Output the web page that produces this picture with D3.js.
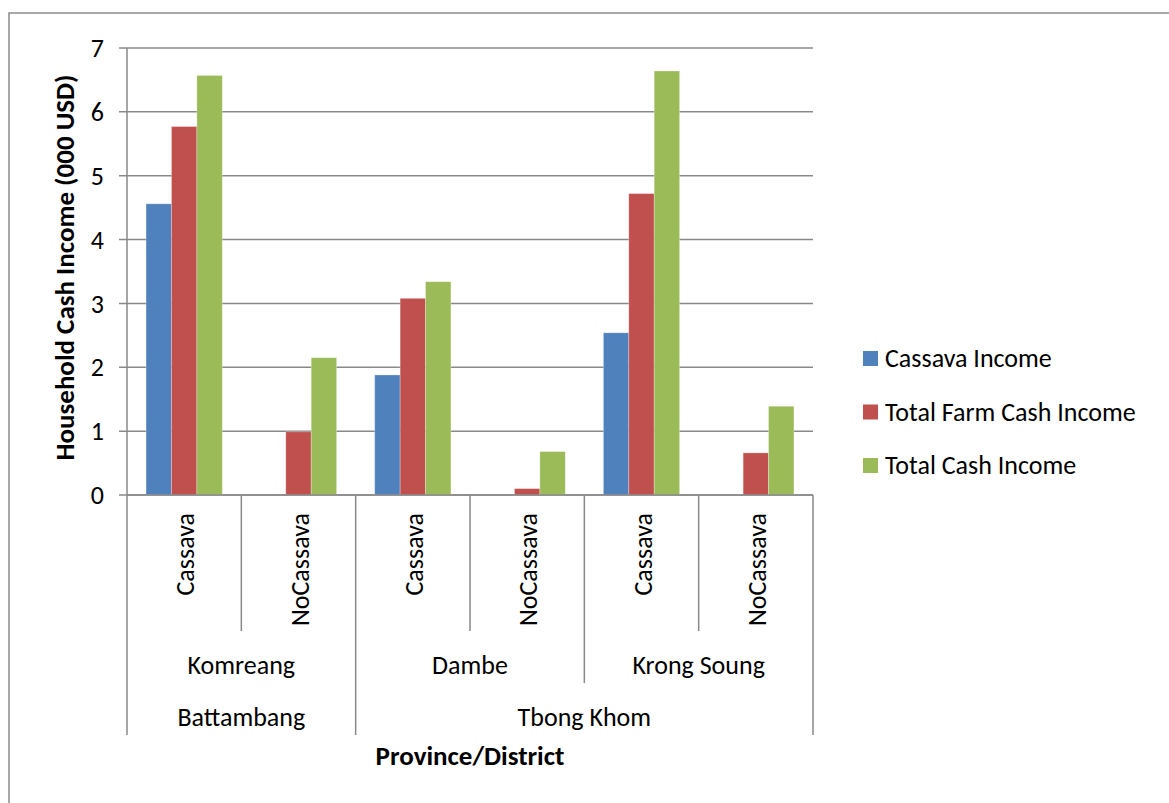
<!DOCTYPE html>
<html>
<head>
<meta charset="utf-8">
<script src="https://cdn.jsdelivr.net/npm/d3@7"></script>
<style>
  html, body { margin: 0; padding: 0; background: #fff; }
  svg { display: block; font-family: Calibri, Carlito, Lato, sans-serif; }
</style>
</head>
<body>
<svg id="chart" width="1169" height="803"></svg>
<script>
// ---- data ----
const subCategories = ["Cassava", "NoCassava", "Cassava", "NoCassava", "Cassava", "NoCassava"];
const districts = ["Komreang", "Komreang", "Dambe", "Dambe", "Krong Soung", "Krong Soung"];
const provinces = ["Battambang", "Battambang", "Tbong Khom", "Tbong Khom", "Tbong Khom", "Tbong Khom"];
const seriesNames = ["Cassava Income", "Total Farm Cash Income", "Total Cash Income"];
const cassavaIncome = [4.56, 0, 1.88, 0, 2.54, 0];
const totalFarmCashIncome = [5.77, 0.99, 3.08, 0.10, 4.72, 0.66];
const totalCashIncome = [6.57, 2.15, 3.34, 0.68, 6.64, 1.39];
const yTicks = [0, 1, 2, 3, 4, 5, 6, 7];
const yTitle = "Household Cash Income (000 USD)";
const xTitle = "Province/District";

(function () {
const seriesValues = [cassavaIncome, totalFarmCashIncome, totalCashIncome];
const colors = ["#4F81BD", "#C0504D", "#9BBB59"];

// ---- layout ----
const svg = d3.select("#chart");
const pLeft = 127, pRight = 813, pTop = 48, pBottom = 495;
const gridColor = "#898989";
const fontSize = 26;
const titleSize = 27;

// outer frame
svg.append("rect").attr("x", 9).attr("y", 13).attr("width", 1200).attr("height", 900)
  .attr("fill", "none").attr("stroke", "#8c8c8c").attr("stroke-width", 1.5);

const idx = d3.range(subCategories.length);
const x0 = d3.scaleBand().domain(idx).range([pLeft, pRight]).paddingInner(0).paddingOuter(0);
const x1 = d3.scaleBand().domain(d3.range(seriesNames.length)).range([0, x0.bandwidth()])
  .paddingInner(0).paddingOuter(0.75);
const y = d3.scaleLinear().domain([0, 7]).range([pBottom, pTop]);

// gridlines
svg.append("g").selectAll("line").data(yTicks).join("line")
  .attr("x1", pLeft - 8).attr("x2", pRight)
  .attr("y1", d => y(d)).attr("y2", d => y(d))
  .attr("stroke", gridColor).attr("stroke-width", 1.5);

// y axis tick labels
svg.append("g").selectAll("text").data(yTicks).join("text")
  .attr("x", 104).attr("y", d => y(d)).attr("dy", "0.35em")
  .attr("text-anchor", "end").attr("font-size", fontSize).attr("fill", "#000")
  .text(d => d);

// bars
const barG = svg.append("g");
seriesValues.forEach((vals, s) => {
  barG.append("g").selectAll("rect").data(idx.filter(i => vals[i] > 0)).join("rect")
    .attr("x", i => x0(i) + x1(s))
    .attr("width", x1.bandwidth())
    .attr("y", i => y(vals[i]))
    .attr("height", i => y(0) - y(vals[i]))
    .attr("fill", colors[s])
    .attr("stroke", "#ffffff").attr("stroke-opacity", 0.35).attr("stroke-width", 0.8);
});

// axis lines
const lvl1 = 631, lvl2 = 683, lvl3 = 735;
svg.append("line").attr("x1", pLeft).attr("x2", pLeft).attr("y1", pTop).attr("y2", pBottom)
  .attr("stroke", gridColor).attr("stroke-width", 1.5);
svg.append("line").attr("x1", pLeft).attr("x2", pRight).attr("y1", pBottom).attr("y2", pBottom)
  .attr("stroke", gridColor).attr("stroke-width", 1.5);

// hierarchical category separators
const bounds = idx.map(i => x0(i)).concat([pRight]);
const sepData = bounds.map((bx, k) => {
  let end = lvl1;
  const isEdge = k === 0 || k === bounds.length - 1;
  const distChange = isEdge || districts[k] !== districts[k - 1];
  const provChange = isEdge || provinces[k] !== provinces[k - 1];
  if (distChange) end = lvl2;
  if (provChange) end = lvl3;
  return { x: bx, end };
});
svg.append("g").selectAll("line").data(sepData).join("line")
  .attr("x1", d => d.x).attr("x2", d => d.x)
  .attr("y1", pBottom).attr("y2", d => d.end)
  .attr("stroke", gridColor).attr("stroke-width", 1.5);

// level 1 labels (rotated)
svg.append("g").selectAll("text").data(idx).join("text")
  .attr("transform", i => `translate(${x0(i) + x0.bandwidth() / 2 + 1},513) rotate(-90)`)
  .attr("dy", "0.35em").attr("text-anchor", "end")
  .attr("font-size", fontSize).attr("fill", "#000")
  .text(i => subCategories[i]);

function spans(arr) {
  const out = [];
  arr.forEach((v, i) => {
    if (i > 0 && arr[i - 1] === v) out[out.length - 1].end = i;
    else out.push({ label: v, start: i, end: i });
  });
  return out;
}
svg.append("g").selectAll("text").data(spans(districts)).join("text")
  .attr("x", d => (x0(d.start) + x0(d.end) + x0.bandwidth()) / 2)
  .attr("y", 674).attr("text-anchor", "middle")
  .attr("font-size", fontSize).attr("fill", "#000")
  .text(d => d.label);
svg.append("g").selectAll("text").data(spans(provinces)).join("text")
  .attr("x", d => (x0(d.start) + x0(d.end) + x0.bandwidth()) / 2)
  .attr("y", 726).attr("text-anchor", "middle")
  .attr("font-size", fontSize).attr("fill", "#000")
  .text(d => d.label);

// axis titles
svg.append("text")
  .attr("transform", `translate(65,${(pTop + pBottom) / 2 - 4}) rotate(-90)`)
  .attr("dy", "0.35em").attr("text-anchor", "middle")
  .attr("font-size", titleSize).attr("font-weight", "bold").attr("fill", "#000")
  .text(yTitle);
svg.append("text")
  .attr("x", (pLeft + pRight) / 2).attr("y", 765).attr("text-anchor", "middle")
  .attr("font-size", titleSize).attr("font-weight", "bold").attr("fill", "#000")
  .text(xTitle);

// legend
const legend = svg.append("g").selectAll("g").data(seriesNames).join("g")
  .attr("transform", (d, i) => `translate(863,${351 + i * 53.5})`);
legend.append("rect").attr("width", 15).attr("height", 15)
  .attr("fill", (d, i) => colors[i]);
legend.append("text").attr("x", 22).attr("y", 16)
  .attr("font-size", fontSize).attr("fill", "#000")
  .text(d => d);
})();
</script>
</body>
</html>
